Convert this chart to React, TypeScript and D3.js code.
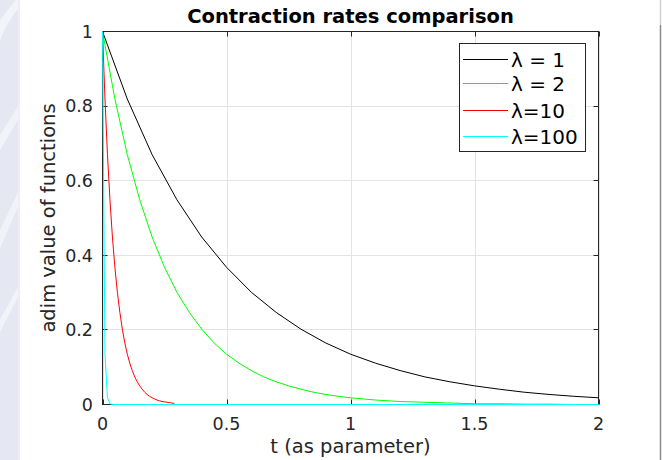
import * as d3 from 'd3';

// t samples and read-off values per curve
const tBlack = [0, 0.1, 0.2, 0.3, 0.4, 0.5, 0.6, 0.7, 0.8, 0.9, 1.0, 1.1, 1.2, 1.3, 1.4, 1.5, 1.6, 1.7, 1.8, 1.9, 2.0];
const vBlack = [1, 0.819, 0.670, 0.549, 0.449, 0.368, 0.301, 0.247, 0.202, 0.165, 0.135, 0.111, 0.091, 0.074, 0.061, 0.050, 0.041, 0.033, 0.027, 0.022, 0.018];

const tGreen = [0, 0.05, 0.1, 0.15, 0.2, 0.25, 0.3, 0.35, 0.4, 0.45, 0.5, 0.55, 0.6, 0.65, 0.7, 0.75, 0.8, 0.85, 0.9, 0.95, 1.0, 1.1, 1.2, 1.3, 1.4, 1.5, 1.6, 1.7, 1.8, 1.9, 2.0];
const vGreen = [1, 0.819, 0.670, 0.549, 0.449, 0.368, 0.301, 0.247, 0.202, 0.165, 0.135, 0.111, 0.091, 0.074, 0.061, 0.050, 0.041, 0.033, 0.027, 0.022, 0.018, 0.012, 0.008, 0.006, 0.004, 0.002, 0.002, 0.001, 0.001, 0, 0];

const tRed = [0, 0.01, 0.02, 0.03, 0.04, 0.05, 0.06, 0.07, 0.08, 0.09, 0.1, 0.11, 0.12, 0.13, 0.14, 0.15, 0.16, 0.17, 0.18, 0.19, 0.2, 0.21, 0.22, 0.23, 0.24, 0.25, 0.26, 0.27, 0.28, 0.29];
const vRed = [1, 0.819, 0.670, 0.549, 0.449, 0.368, 0.301, 0.247, 0.202, 0.165, 0.135, 0.111, 0.091, 0.074, 0.061, 0.050, 0.041, 0.033, 0.027, 0.022, 0.018, 0.015, 0.012, 0.010, 0.008, 0.007, 0.006, 0.005, 0.004, 0.003];

const tCyan = [0, 0.01, 0.02, 0.03, 0.04, 2.0];
const vCyan = [1, 0.135, 0.018, 0.002, 0, 0];

const seriesLabels = ['\u03bb = 1', '\u03bb = 2', '\u03bb=10', '\u03bb=100'];
const seriesColors = ['#000000', '#00ff00', '#ff0000', '#00ffff'];

const xTicks = [0, 0.5, 1, 1.5, 2];
const xTickLabels = ['0', '0.5', '1', '1.5', '2'];
const yTicks = [0, 0.2, 0.4, 0.6, 0.8, 1];
const yTickLabels = ['0', '0.2', '0.4', '0.6', '0.8', '1'];

const W = 662;
const H = 460;
const FONT = '"DejaVu Sans", Verdana, sans-serif';
const AX = '#262626';

export default function App() {
  const x = d3.scaleLinear().domain([0, 2]).range([102.5, 598.5]);
  const y = d3.scaleLinear().domain([0, 1]).range([404.5, 31.5]);

  const line = d3
    .line<[number, number]>()
    .x((d) => x(d[0]))
    .y((d) => y(d[1]));

  const series = [
    { t: tBlack, v: vBlack },
    { t: tGreen, v: vGreen },
    { t: tRed, v: vRed },
    { t: tCyan, v: vCyan },
  ].map((s, i) => ({
    d: line(s.t.map((t, k) => [t, s.v[k]] as [number, number])) || '',
    color: seriesColors[i],
    label: seriesLabels[i],
  }));

  const [x0, x1] = x.range();
  const [y0, y1] = y.range();
  const tickLen = 5;

  // legend layout
  const lg = { left: 459.5, top: 43.5, right: 585.5, bottom: 151.5 };
  const lgRows = [59.5, 83.5, 110.5, 136.5];

  return (
    <svg
      width={W}
      height={H}
      style={{ position: 'absolute', left: 0, top: 0, display: 'block', background: '#fff' }}
    >
      {/* faint background decoration at the edges */}
      <rect x={0} y={0} width={19} height={H} fill="#e5e8f3" />
      <path d="M0,20 Q16,0 19,-5 L19,8 Q8,20 0,40 Z" fill="#f3f4fa" />
      <path d="M0,135 L19,105 L19,118 L0,150 Z" fill="#f1f3f9" />
      <path d="M0,230 L19,190 L19,205 L0,248 Z" fill="#f1f3f9" />
      <path d="M0,320 L19,285 L19,295 L0,332 Z" fill="#f1f3f9" />
      <rect x={18} y={0} width={2} height={H} fill="#eceef4" />
      <line x1={660.5} y1={25} x2={660.5} y2={H} stroke="#8a8a8a" strokeWidth={1.5} />
      <line x1={660.5} y1={0} x2={660.5} y2={25} stroke="#d0d0d0" strokeWidth={1.5} />

      {/* grid */}
      {xTicks.map((t) => (
        <line key={'gx' + t} x1={Math.round(x(t)) + 0.5} x2={Math.round(x(t)) + 0.5} y1={y1} y2={y0} stroke="#e3e3e3" strokeWidth={1} />
      ))}
      {yTicks.map((t) => (
        <line key={'gy' + t} x1={x0} x2={x1} y1={Math.round(y(t) - 0.5) + 0.5} y2={Math.round(y(t) - 0.5) + 0.5} stroke="#e3e3e3" strokeWidth={1} />
      ))}

      {/* axes box */}
      <rect x={x0} y={y1} width={x1 - x0} height={y0 - y1} fill="none" stroke={AX} strokeWidth={1} />

      {/* ticks, inward on all sides */}
      {xTicks.map((t) => {
        const px = Math.round(x(t)) + 0.5;
        return (
          <g key={'tx' + t}>
            <line x1={px} x2={px} y1={y0} y2={y0 - tickLen} stroke={AX} />
            <line x1={px} x2={px} y1={y1} y2={y1 + tickLen} stroke={AX} />
          </g>
        );
      })}
      {yTicks.map((t) => {
        const py = Math.round(y(t) - 0.5) + 0.5;
        return (
          <g key={'ty' + t}>
            <line x1={x0} x2={x0 + tickLen} y1={py} y2={py} stroke={AX} />
            <line x1={x1} x2={x1 - tickLen} y1={py} y2={py} stroke={AX} />
          </g>
        );
      })}

      {/* curves */}
      {series.map((s) => (
        <path key={s.label} d={s.d} fill="none" stroke={s.color} strokeWidth={1} />
      ))}

      {/* tick labels */}
      {xTicks.map((t, i) => (
        <text key={'lx' + t} x={x(t)} y={430} textAnchor="middle" fontFamily={FONT} fontSize={17.5} fill={AX}>
          {xTickLabels[i]}
        </text>
      ))}
      {yTicks.map((t, i) => (
        <text key={'ly' + t} x={93} y={y(t)} dy="0.36em" textAnchor="end" fontFamily={FONT} fontSize={17.5} fill={AX}>
          {yTickLabels[i]}
        </text>
      ))}

      {/* axis labels and title */}
      <text x={(x0 + x1) / 2} y={453} textAnchor="middle" fontFamily={FONT} fontSize={19.5} fill={AX}>
        t (as parameter)
      </text>
      <text
        transform={`translate(55,${(y0 + y1) / 2}) rotate(-90)`}
        textAnchor="middle"
        fontFamily={FONT}
        fontSize={19.5}
        fill={AX}
      >
        adim value of functions
      </text>
      <text x={(x0 + x1) / 2} y={23} textAnchor="middle" fontFamily={FONT} fontSize={19.5} fontWeight="bold" fill="#000">
        Contraction rates comparison
      </text>

      {/* legend */}
      <rect x={lg.left} y={lg.top} width={lg.right - lg.left} height={lg.bottom - lg.top} fill="#fff" stroke={AX} strokeWidth={1} />
      {series.map((s, i) => (
        <g key={'lg' + i}>
          <line x1={463} x2={508} y1={lgRows[i]} y2={lgRows[i]} stroke={s.color} strokeWidth={1} />
          <text x={511} y={lgRows[i]} dy="0.36em" fontFamily={FONT} fontSize={20} fill="#000">
            {s.label}
          </text>
        </g>
      ))}
    </svg>
  );
}
